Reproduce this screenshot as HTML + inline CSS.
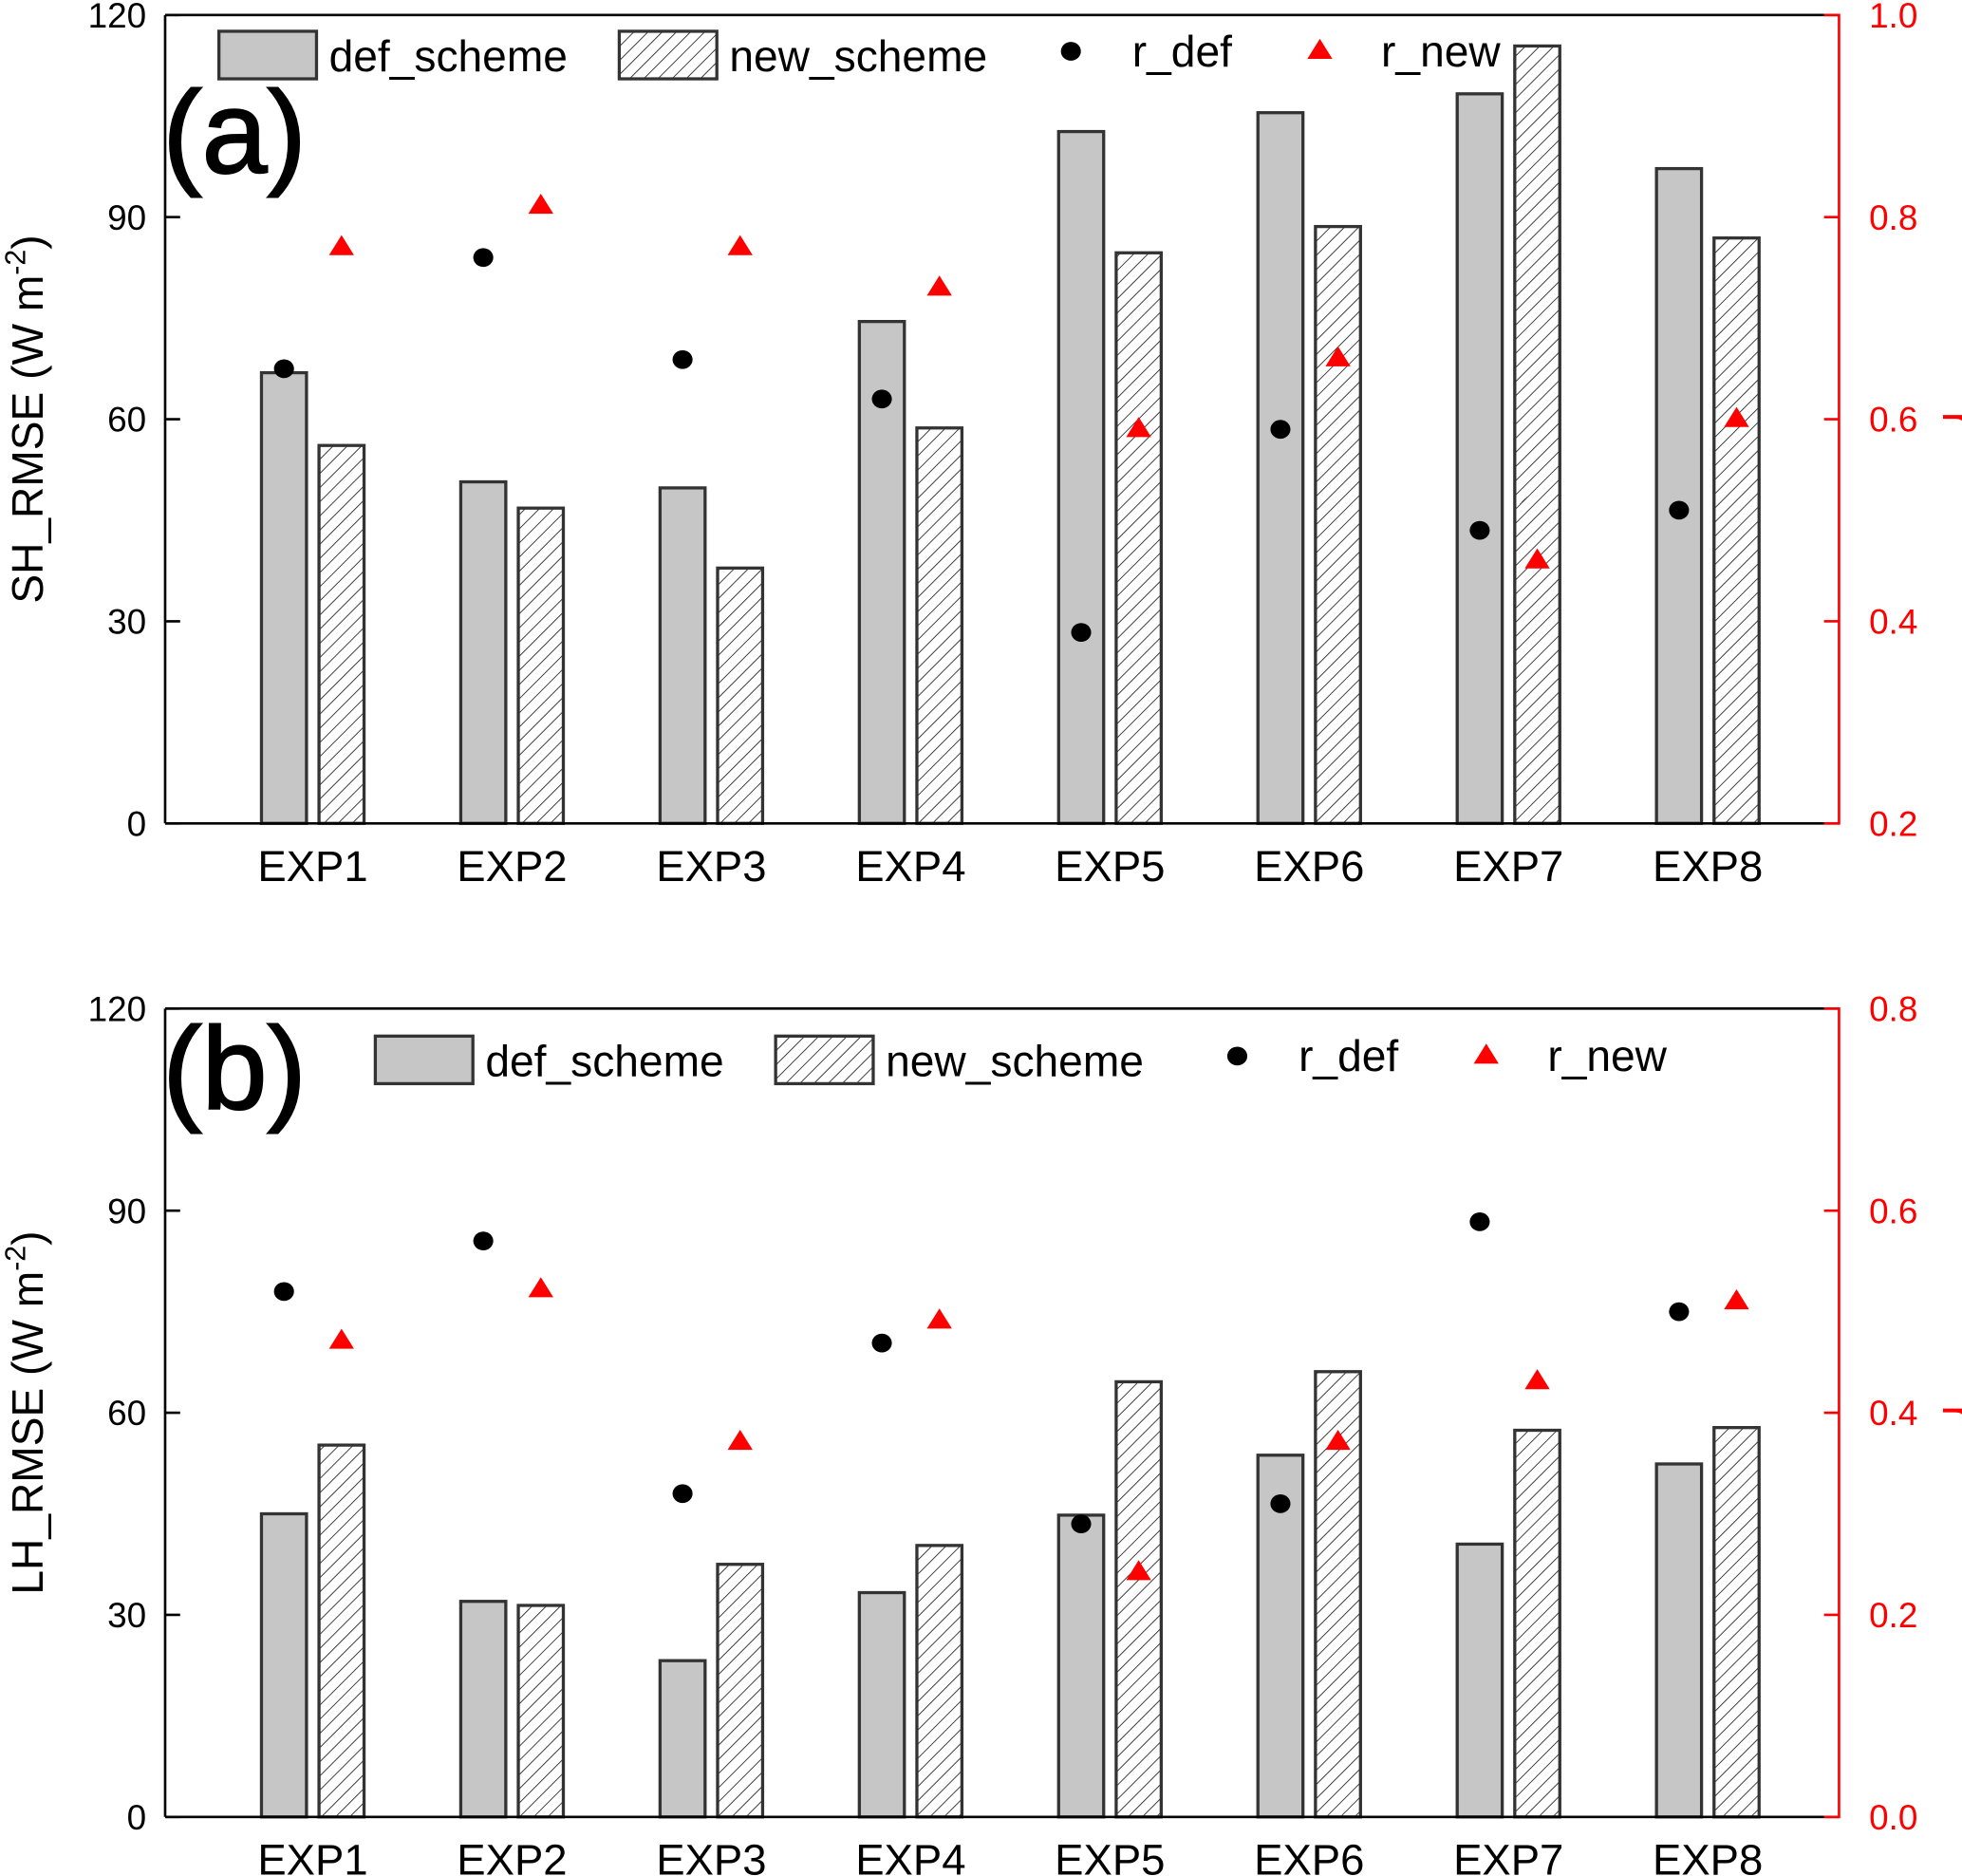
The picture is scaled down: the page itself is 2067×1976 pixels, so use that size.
<!DOCTYPE html>
<html><head><meta charset="utf-8"><style>
html,body{margin:0;padding:0;background:#fff;}
svg{display:block;font-family:"Liberation Sans",Arial,sans-serif;}
</style></head>
<body>
<svg id="chart" width="2067" height="1976" viewBox="0 0 1568.3 1499.2" preserveAspectRatio="none" xmlns="http://www.w3.org/2000/svg">
<defs>
<pattern id="hatch" patternUnits="userSpaceOnUse" width="8" height="8" patternTransform="rotate(45)">
<rect width="8" height="8" fill="#fff"/>
<line x1="0" y1="0" x2="0" y2="8" stroke="#222" stroke-width="1.3"/>
</pattern>
</defs>
</svg>
<script>
const categories = ["EXP1","EXP2","EXP3","EXP4","EXP5","EXP6","EXP7","EXP8"];
const shDef = [66.9,50.7,49.8,74.5,102.7,105.5,108.3,97.2];
const shNew = [56.1,46.8,37.9,58.7,84.7,88.6,115.4,86.9];
const shRDef = [0.650,0.760,0.659,0.620,0.389,0.590,0.490,0.510];
const shRNew = [0.771,0.812,0.771,0.731,0.591,0.661,0.461,0.601];
const lhDef = [45.0,32.0,23.2,33.3,44.8,53.7,40.5,52.4];
const lhNew = [55.2,31.4,37.5,40.3,64.6,66.1,57.4,57.8];
const lhRDef = [0.520,0.570,0.320,0.469,0.290,0.310,0.589,0.500];
const lhRNew = [0.472,0.523,0.372,0.492,0.243,0.372,0.432,0.511];
const leftTicks = [0,30,60,90,120];
const rightTicksA = ["0.2","0.4","0.6","0.8","1.0"];
const rightTicksB = ["0.0","0.2","0.4","0.6","0.8"];

const NS="http://www.w3.org/2000/svg";
const svg=document.getElementById('chart');
function mk(tag,attrs,parent,text){const e=document.createElementNS(NS,tag);for(const k in attrs)e.setAttribute(k,attrs[k]);if(text!==undefined)e.textContent=text;(parent||svg).appendChild(e);return e;}

const X0=132,X1=1470;
function xCat(i){return 250+i*159.3;}

function panel(cfg){
  const g=mk('g',{});
  
  
  const yL=v=>cfg.bot-(v-0)/120*(cfg.bot-cfg.top);
  const yR=v=>cfg.bot-(v-cfg.rmin)/(cfg.rmax-cfg.rmin)*(cfg.bot-cfg.top);
  for(let i=0;i<categories.length;i++){
    const c=xCat(i);
    const b1=mk('rect',{x:c-41,y:yL(cfg.def[i]),width:36,height:cfg.bot-yL(cfg.def[i]),fill:'#c6c6c6',stroke:'#333','stroke-width':2.5},g);
    
    
    const b2=mk('rect',{x:c+5,y:yL(cfg.nw[i]),width:36,height:cfg.bot-yL(cfg.nw[i]),fill:'url(#hatch)',stroke:'#333','stroke-width':2.5},g);
    
    
  }
  for(let i=0;i<categories.length;i++){
    const c=xCat(i);
    const p=mk('ellipse',{cx:c-23,cy:yR(cfg.rdef[i]),rx:8,ry:7.5,fill:'#000'},g);
    
    
    const yy=yR(cfg.rnew[i]);
    const t=mk('polygon',{points:`${c+23},${yy-9} ${c+33},${yy+7} ${c+13},${yy+7}`,fill:'#f00'},g);
    
    
  }
  mk('line',{x1:X0,y1:cfg.top,x2:X1,y2:cfg.top,stroke:'#000','stroke-width':2},g);
  mk('line',{x1:X0,y1:cfg.bot,x2:X1,y2:cfg.bot,stroke:'#000','stroke-width':2},g);
  const la=mk('line',{x1:X0,y1:cfg.top,x2:X0,y2:cfg.bot,stroke:'#000','stroke-width':2},g);
  
  const ra=mk('line',{x1:X1,y1:cfg.top-1,x2:X1,y2:cfg.bot+1,stroke:'#f00','stroke-width':2},g);
  
  leftTicks.forEach(v=>{
    const y=yL(v);
    mk('line',{x1:X0,y1:y,x2:X0+12,y2:y,stroke:'#000','stroke-width':2},g);
    const t=mk('text',{x:117,y:y+10,'text-anchor':'end','font-size':28,fill:'#000'},g,String(v));
    
  });
  cfg.rticks.forEach((s,k)=>{
    const y=cfg.bot-k*(cfg.bot-cfg.top)/4;
    mk('line',{x1:X1-12,y1:y,x2:X1,y2:y,stroke:'#f00','stroke-width':2},g);
    const t=mk('text',{x:1494,y:y+10,'font-size':28,fill:'#f00'},g,s);
    
  });
  categories.forEach((s,i)=>{
    const t=mk('text',{x:xCat(i),y:cfg.bot+46,'text-anchor':'middle','font-size':34.5,fill:'#000'},g,s);
    
  });
  const mid=(cfg.top+cfg.bot)/2;
  const yt=mk('text',{x:0,y:0,transform:`translate(34,${mid}) rotate(-90)`,'text-anchor':'middle','font-size':35,fill:'#000'},g);
  
  mk('tspan',{},yt,cfg.ytitle+' (W m');
  mk('tspan',{dy:-14,'font-size':23},yt,'-2');
  mk('tspan',{dy:14},yt,')');
  const rt=mk('text',{x:0,y:0,transform:`translate(1553,${mid}) rotate(90)`,'text-anchor':'middle','font-size':35,fill:'#f00'},g,'r');
  
  const pl=mk('text',{x:130,y:cfg.top+cfg.labelDy,'font-size':94,fill:'#000',stroke:'#000','stroke-width':1.5},g,cfg.label);
  
  const L=cfg.leg, ly=cfg.top+cfg.legDy, d=cfg.legShift;
  const s1=mk('rect',{x:L,y:ly,width:78,height:38,fill:'#c6c6c6',stroke:'#333','stroke-width':2.5},g);
  
  mk('text',{x:L+88,y:ly+32,'font-size':35,fill:'#000'},g,'def_scheme');
  const s2=mk('rect',{x:L+320,y:ly,width:78,height:38,fill:'url(#hatch)',stroke:'#333','stroke-width':2.5},g);
  
  mk('text',{x:L+408,y:ly+32,'font-size':35,fill:'#000'},g,'new_scheme');
  mk('ellipse',{cx:L+681+d,cy:ly+16,rx:8,ry:7.5,fill:'#000'},g);
  mk('text',{x:L+730+d,y:ly+28,'font-size':35,fill:'#000'},g,'r_def');
  mk('polygon',{points:`${L+880+d},${ly+6} ${L+890+d},${ly+22} ${L+870+d},${ly+22}`,fill:'#f00'},g);
  mk('text',{x:L+929+d,y:ly+28,'font-size':35,fill:'#000'},g,'r_new');
}

panel({name:'panel-a-sensible-heat',top:12,bot:658,rmin:0.2,rmax:1.0,def:shDef,nw:shNew,rdef:shRDef,rnew:shRNew,rticks:rightTicksA,ytitle:'SH_RMSE',label:'(a)',labelDy:126,leg:175,legDy:13,legShift:0});
panel({name:'panel-b-latent-heat',top:806,bot:1452,rmin:0.0,rmax:0.8,def:lhDef,nw:lhNew,rdef:lhRDef,rnew:lhRNew,rticks:rightTicksB,ytitle:'LH_RMSE',label:'(b)',labelDy:80,leg:300,legDy:22,legShift:8});
</script>
</body></html>
